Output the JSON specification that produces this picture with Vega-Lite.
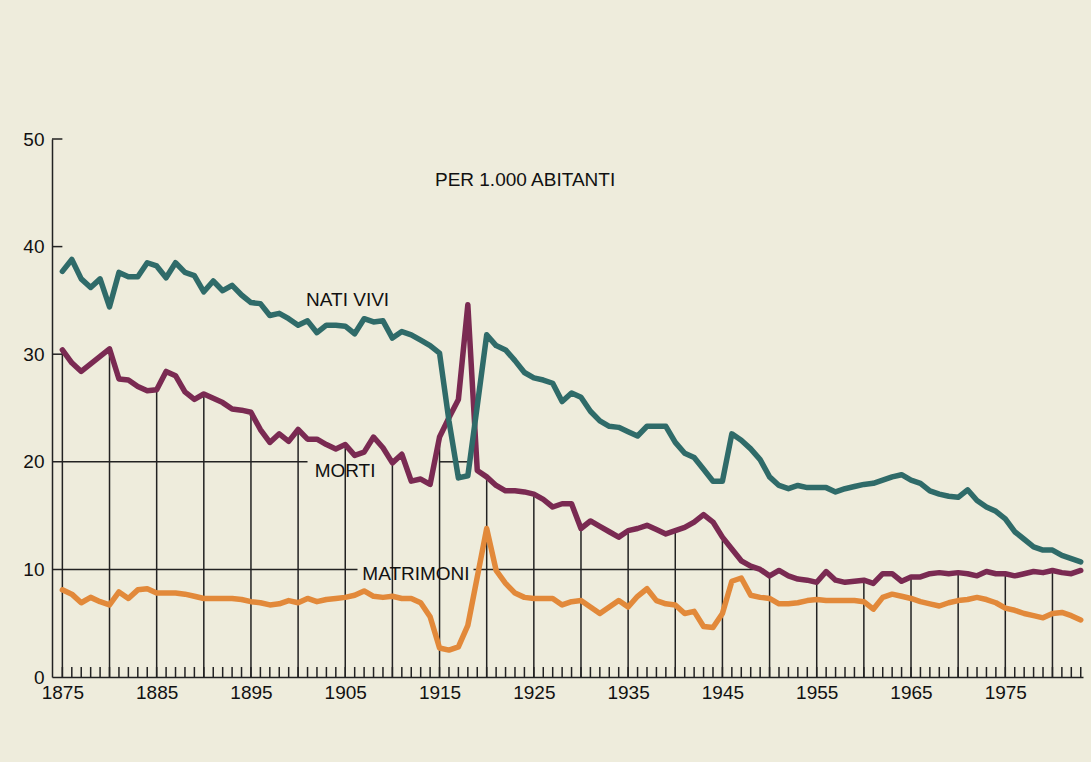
{
  "$schema": "https://vega.github.io/schema/vega-lite/v6.json",
  "width": 1031,
  "height": 538,
  "autosize": {"type": "none"},
  "padding": {"left": 52, "top": 139, "right": 8, "bottom": 85},
  "background": "#eeecdc",
  "config": {"view": {"stroke": null}, "font": "Liberation Sans"},
  "data": {"values": [
    {"year":1875,"nati":37.7,"morti":30.4,"matrimoni":8.1},
    {"year":1876,"nati":38.8,"morti":29.2,"matrimoni":7.7},
    {"year":1877,"nati":37.0,"morti":28.4,"matrimoni":6.9},
    {"year":1878,"nati":36.2,"morti":29.1,"matrimoni":7.4},
    {"year":1879,"nati":37.0,"morti":29.8,"matrimoni":7.0},
    {"year":1880,"nati":34.4,"morti":30.5,"matrimoni":6.7},
    {"year":1881,"nati":37.6,"morti":27.7,"matrimoni":7.9},
    {"year":1882,"nati":37.2,"morti":27.6,"matrimoni":7.3},
    {"year":1883,"nati":37.2,"morti":27.0,"matrimoni":8.1},
    {"year":1884,"nati":38.5,"morti":26.6,"matrimoni":8.2},
    {"year":1885,"nati":38.2,"morti":26.7,"matrimoni":7.8},
    {"year":1886,"nati":37.1,"morti":28.4,"matrimoni":7.8},
    {"year":1887,"nati":38.5,"morti":28.0,"matrimoni":7.8},
    {"year":1888,"nati":37.6,"morti":26.5,"matrimoni":7.7},
    {"year":1889,"nati":37.3,"morti":25.8,"matrimoni":7.5},
    {"year":1890,"nati":35.8,"morti":26.3,"matrimoni":7.3},
    {"year":1891,"nati":36.8,"morti":25.9,"matrimoni":7.3},
    {"year":1892,"nati":35.9,"morti":25.5,"matrimoni":7.3},
    {"year":1893,"nati":36.4,"morti":24.9,"matrimoni":7.3},
    {"year":1894,"nati":35.5,"morti":24.8,"matrimoni":7.2},
    {"year":1895,"nati":34.8,"morti":24.6,"matrimoni":7.0},
    {"year":1896,"nati":34.7,"morti":23.0,"matrimoni":6.9},
    {"year":1897,"nati":33.6,"morti":21.8,"matrimoni":6.7},
    {"year":1898,"nati":33.8,"morti":22.6,"matrimoni":6.8},
    {"year":1899,"nati":33.3,"morti":21.9,"matrimoni":7.1},
    {"year":1900,"nati":32.7,"morti":23.0,"matrimoni":6.9},
    {"year":1901,"nati":33.1,"morti":22.1,"matrimoni":7.3},
    {"year":1902,"nati":32.0,"morti":22.1,"matrimoni":7.0},
    {"year":1903,"nati":32.7,"morti":21.6,"matrimoni":7.2},
    {"year":1904,"nati":32.7,"morti":21.2,"matrimoni":7.3},
    {"year":1905,"nati":32.6,"morti":21.6,"matrimoni":7.4},
    {"year":1906,"nati":31.9,"morti":20.6,"matrimoni":7.6},
    {"year":1907,"nati":33.3,"morti":20.9,"matrimoni":8.0},
    {"year":1908,"nati":33.0,"morti":22.3,"matrimoni":7.5},
    {"year":1909,"nati":33.1,"morti":21.3,"matrimoni":7.4},
    {"year":1910,"nati":31.5,"morti":19.9,"matrimoni":7.5},
    {"year":1911,"nati":32.1,"morti":20.7,"matrimoni":7.3},
    {"year":1912,"nati":31.8,"morti":18.2,"matrimoni":7.3},
    {"year":1913,"nati":31.3,"morti":18.4,"matrimoni":6.9},
    {"year":1914,"nati":30.8,"morti":17.9,"matrimoni":5.6},
    {"year":1915,"nati":30.1,"morti":22.3,"matrimoni":2.7},
    {"year":1916,"nati":23.8,"morti":24.1,"matrimoni":2.5},
    {"year":1917,"nati":18.5,"morti":25.8,"matrimoni":2.8},
    {"year":1918,"nati":18.7,"morti":34.6,"matrimoni":4.8},
    {"year":1919,"nati":25.2,"morti":19.2,"matrimoni":9.3},
    {"year":1920,"nati":31.8,"morti":18.6,"matrimoni":13.8},
    {"year":1921,"nati":30.8,"morti":17.8,"matrimoni":9.9},
    {"year":1922,"nati":30.4,"morti":17.3,"matrimoni":8.7},
    {"year":1923,"nati":29.4,"morti":17.3,"matrimoni":7.8},
    {"year":1924,"nati":28.3,"morti":17.2,"matrimoni":7.4},
    {"year":1925,"nati":27.8,"morti":17.0,"matrimoni":7.3},
    {"year":1926,"nati":27.6,"morti":16.5,"matrimoni":7.3},
    {"year":1927,"nati":27.3,"morti":15.8,"matrimoni":7.3},
    {"year":1928,"nati":25.6,"morti":16.1,"matrimoni":6.7},
    {"year":1929,"nati":26.4,"morti":16.1,"matrimoni":7.0},
    {"year":1930,"nati":26.0,"morti":13.8,"matrimoni":7.1},
    {"year":1931,"nati":24.7,"morti":14.5,"matrimoni":6.5},
    {"year":1932,"nati":23.8,"morti":14.0,"matrimoni":5.9},
    {"year":1933,"nati":23.3,"morti":13.5,"matrimoni":6.5},
    {"year":1934,"nati":23.2,"morti":13.0,"matrimoni":7.1},
    {"year":1935,"nati":22.8,"morti":13.6,"matrimoni":6.5},
    {"year":1936,"nati":22.4,"morti":13.8,"matrimoni":7.5},
    {"year":1937,"nati":23.3,"morti":14.1,"matrimoni":8.2},
    {"year":1938,"nati":23.3,"morti":13.7,"matrimoni":7.1},
    {"year":1939,"nati":23.3,"morti":13.3,"matrimoni":6.8},
    {"year":1940,"nati":21.8,"morti":13.6,"matrimoni":6.7},
    {"year":1941,"nati":20.8,"morti":13.9,"matrimoni":5.9},
    {"year":1942,"nati":20.4,"morti":14.4,"matrimoni":6.1},
    {"year":1943,"nati":19.3,"morti":15.1,"matrimoni":4.7},
    {"year":1944,"nati":18.2,"morti":14.4,"matrimoni":4.6},
    {"year":1945,"nati":18.2,"morti":13.0,"matrimoni":5.9},
    {"year":1946,"nati":22.6,"morti":11.9,"matrimoni":8.9},
    {"year":1947,"nati":22.0,"morti":10.8,"matrimoni":9.2},
    {"year":1948,"nati":21.2,"morti":10.3,"matrimoni":7.6},
    {"year":1949,"nati":20.2,"morti":10.0,"matrimoni":7.4},
    {"year":1950,"nati":18.6,"morti":9.4,"matrimoni":7.3},
    {"year":1951,"nati":17.8,"morti":9.9,"matrimoni":6.8},
    {"year":1952,"nati":17.5,"morti":9.4,"matrimoni":6.8},
    {"year":1953,"nati":17.8,"morti":9.1,"matrimoni":6.9},
    {"year":1954,"nati":17.6,"morti":9.0,"matrimoni":7.1},
    {"year":1955,"nati":17.6,"morti":8.8,"matrimoni":7.2},
    {"year":1956,"nati":17.6,"morti":9.8,"matrimoni":7.1},
    {"year":1957,"nati":17.2,"morti":9.0,"matrimoni":7.1},
    {"year":1958,"nati":17.5,"morti":8.8,"matrimoni":7.1},
    {"year":1959,"nati":17.7,"morti":8.9,"matrimoni":7.1},
    {"year":1960,"nati":17.9,"morti":9.0,"matrimoni":7.0},
    {"year":1961,"nati":18.0,"morti":8.7,"matrimoni":6.3},
    {"year":1962,"nati":18.3,"morti":9.6,"matrimoni":7.4},
    {"year":1963,"nati":18.6,"morti":9.6,"matrimoni":7.7},
    {"year":1964,"nati":18.8,"morti":8.9,"matrimoni":7.5},
    {"year":1965,"nati":18.3,"morti":9.3,"matrimoni":7.3},
    {"year":1966,"nati":18.0,"morti":9.3,"matrimoni":7.0},
    {"year":1967,"nati":17.3,"morti":9.6,"matrimoni":6.8},
    {"year":1968,"nati":17.0,"morti":9.7,"matrimoni":6.6},
    {"year":1969,"nati":16.8,"morti":9.6,"matrimoni":6.9},
    {"year":1970,"nati":16.7,"morti":9.7,"matrimoni":7.1},
    {"year":1971,"nati":17.4,"morti":9.6,"matrimoni":7.2},
    {"year":1972,"nati":16.4,"morti":9.4,"matrimoni":7.4},
    {"year":1973,"nati":15.8,"morti":9.8,"matrimoni":7.2},
    {"year":1974,"nati":15.4,"morti":9.6,"matrimoni":6.9},
    {"year":1975,"nati":14.7,"morti":9.6,"matrimoni":6.4},
    {"year":1976,"nati":13.5,"morti":9.4,"matrimoni":6.2},
    {"year":1977,"nati":12.8,"morti":9.6,"matrimoni":5.9},
    {"year":1978,"nati":12.1,"morti":9.8,"matrimoni":5.7},
    {"year":1979,"nati":11.8,"morti":9.7,"matrimoni":5.5},
    {"year":1980,"nati":11.8,"morti":9.9,"matrimoni":5.9},
    {"year":1981,"nati":11.3,"morti":9.7,"matrimoni":6.0},
    {"year":1982,"nati":11.0,"morti":9.6,"matrimoni":5.7},
    {"year":1983,"nati":10.7,"morti":9.9,"matrimoni":5.3}
  ]},
  "layer": [
    {
      "transform": [{"filter": "datum.year % 5 === 0"}],
      "mark": {"type": "rule", "color": "#222222", "strokeWidth": 1.5},
      "encoding": {
        "x": {"field": "year", "type": "quantitative",
              "scale": {"domain": [1873.9, 1983.24], "nice": false, "zero": false},
              "axis": {"values": [1875,1885,1895,1905,1915,1925,1935,1945,1955,1965,1975],
                       "format": "d", "ticks": false, "grid": false, "title": null,
                       "labelFontSize": 19, "labelColor": "#111111", "labelPadding": 6,
                       "domainColor": "#222222", "domainWidth": 1.5}},
        "y": {"field": "morti", "type": "quantitative",
              "scale": {"domain": [0, 50], "nice": false, "zero": true},
              "axis": {"values": [0,10,20,30,40,50], "grid": false, "title": null,
                       "ticks": false,
                       "labelFontSize": 19, "labelColor": "#111111", "labelPadding": 8,
                       "domainColor": "#222222", "domainWidth": 1.5}},
        "y2": {"datum": 0}
      }
    },
    {
      "mark": {"type": "rule", "color": "#222222", "strokeWidth": 1.5},
      "encoding": {"x": {"field": "year", "type": "quantitative"}, "y": {"datum": 0}, "y2": {"datum": 0.93}}
    },
    {
      "data": {"values": [{}]},
      "mark": {"type": "rule", "color": "#222222", "strokeWidth": 1.5},
      "encoding": {"x": {"datum": 1873.9}, "x2": {"datum": 1875.0}, "y": {"datum": 50}}
    },
    {
      "data": {"values": [{}]},
      "mark": {"type": "rule", "color": "#222222", "strokeWidth": 1.5},
      "encoding": {"x": {"datum": 1873.9}, "x2": {"datum": 1875.0}, "y": {"datum": 40}}
    },
    {
      "data": {"values": [{}]},
      "mark": {"type": "rule", "color": "#222222", "strokeWidth": 1.5},
      "encoding": {"x": {"datum": 1873.9}, "x2": {"datum": 1875.0}, "y": {"datum": 30}}
    },
    {
      "data": {"values": [{}]},
      "mark": {"type": "rule", "color": "#222222", "strokeWidth": 1.5},
      "encoding": {"x": {"datum": 1873.9}, "x2": {"datum": 1901.0}, "y": {"datum": 20}}
    },
    {
      "data": {"values": [{}]},
      "mark": {"type": "rule", "color": "#222222", "strokeWidth": 1.5},
      "encoding": {"x": {"datum": 1915.0}, "x2": {"datum": 1918.2}, "y": {"datum": 20}}
    },
    {
      "data": {"values": [{}]},
      "mark": {"type": "rule", "color": "#222222", "strokeWidth": 1.5},
      "encoding": {"x": {"datum": 1873.9}, "x2": {"datum": 1906.3}, "y": {"datum": 10}}
    },
    {
      "data": {"values": [{}]},
      "mark": {"type": "rule", "color": "#222222", "strokeWidth": 1.5},
      "encoding": {"x": {"datum": 1918.6}, "x2": {"datum": 1949.3}, "y": {"datum": 10}}
    },
    {
      "transform": [{"fold": ["matrimoni", "morti", "nati"], "as": ["serie", "value"]}],
      "mark": {"type": "line", "strokeWidth": 5.5, "strokeJoin": "round", "strokeCap": "round"},
      "encoding": {
        "x": {"field": "year", "type": "quantitative"},
        "y": {"field": "value", "type": "quantitative"},
        "color": {"field": "serie", "type": "nominal",
                  "scale": {"domain": ["matrimoni", "morti", "nati"], "range": ["#e2893a", "#7a2a52", "#2f6b69"]},
                  "legend": null},
        "detail": {"field": "serie"}
      }
    },
    {
      "data": {"values": [{"label": "PER 1.000 ABITANTI"}]},
      "mark": {"type": "text", "fontSize": 19, "color": "#111111", "align": "center", "baseline": "middle"},
      "encoding": {"x": {"datum": 1924.07}, "y": {"datum": 46.2}, "text": {"field": "label"}}
    },
    {
      "data": {"values": [{"label": "NATI VIVI"}]},
      "mark": {"type": "text", "fontSize": 19, "color": "#111111", "align": "center", "baseline": "middle"},
      "encoding": {"x": {"datum": 1905.25}, "y": {"datum": 35.07}, "text": {"field": "label"}}
    },
    {
      "data": {"values": [{"label": "MORTI"}]},
      "mark": {"type": "text", "fontSize": 19, "color": "#111111", "align": "center", "baseline": "middle"},
      "encoding": {"x": {"datum": 1904.98}, "y": {"datum": 19.16}, "text": {"field": "label"}}
    },
    {
      "data": {"values": [{"label": "MATRIMONI"}]},
      "mark": {"type": "text", "fontSize": 19, "color": "#111111", "align": "center", "baseline": "middle"},
      "encoding": {"x": {"datum": 1912.5}, "y": {"datum": 9.57}, "text": {"field": "label"}}
    }
  ]
}
